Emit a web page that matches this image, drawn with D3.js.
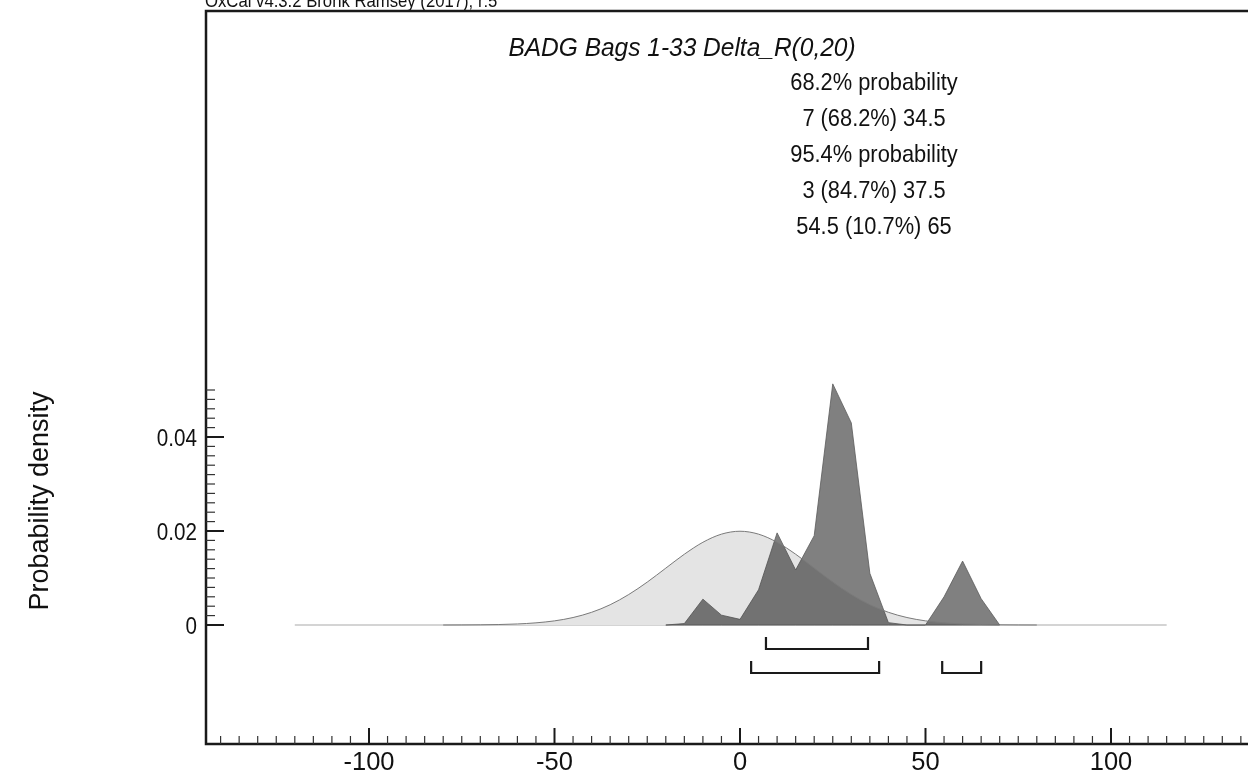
<!DOCTYPE html>
<html>
<head>
<meta charset="utf-8">
<script src="https://cdn.jsdelivr.net/npm/d3@7"></script>
<style>
  html, body { margin: 0; padding: 0; background: #fff; }
  svg { display: block; font-family: "Liberation Sans", Arial, sans-serif; }
</style>
</head>
<body>
<svg id="chart" width="1248" height="776"></svg>
<script>
// Prior: Delta_R ~ N(0,20), density sampled every 5 units
const priorX = [-120,-115,-110,-105,-100,-95,-90,-85,-80,-75,-70,-65,-60,-55,-50,-45,-40,-35,-30,-25,-20,-15,-10,-5,0,5,10,15,20,25,30,35,40,45,50,55,60,65,70,75,80,85,90,95,100,105,110,115];
const priorY = [0,0,0,0,0,0,0,0,0,0.00001,0.00004,0.0001,0.00022,0.00046,0.00088,0.00159,0.0027,0.00431,0.00648,0.00913,0.0121,0.01506,0.0176,0.01933,0.01995,0.01933,0.0176,0.01506,0.0121,0.00913,0.00648,0.00431,0.0027,0.00159,0.00088,0.00046,0.00022,0.0001,0.00004,0.00001,0,0,0,0,0,0,0,0];

// Posterior density of Delta_R
const postX = [-20,-15,-10,-5,0,5,10,15,20,25,30,35,40,45,50,55,60,65,70];
const postY = [0,0.0003,0.0055,0.0021,0.0012,0.0075,0.0196,0.0117,0.0190,0.0513,0.0430,0.0110,0.0005,0,0,0.0060,0.0136,0.0056,0];

// Highest posterior density ranges
const range68 = [[7, 34.5]];
const range95 = [[3, 37.5], [54.5, 65]];

const headerText = "OxCal v4.3.2 Bronk Ramsey (2017); r:5";
const titleText = "BADG Bags 1-33 Delta_R(0,20)";
const summaryLines = ["68.2% probability", "7 (68.2%) 34.5", "95.4% probability", "3 (84.7%) 37.5", "54.5 (10.7%) 65"];

const xMajorTicks = [-100, -50, 0, 50, 100];
const yMajorTicks = [0, 0.02, 0.04];
const yTickLabels = ["0", "0.02", "0.04"];
const yLabel = "Probability density";

const svg = d3.select("#chart");
const W = 1248;
const frame = { left: 206, top: 11, bottom: 744 };

const x = d3.scaleLinear().domain([0, 100]).range([740, 1111]);
const y = d3.scaleLinear().domain([0, 0.05]).range([625, 390]);

// Text drawn slightly condensed horizontally, as in OxCal output
function label(parent, tx, ty, str, size, sx, anchor, italic) {
  return parent.append("text")
    .attr("transform", `translate(${tx},${ty}) scale(${sx},1)`)
    .attr("text-anchor", anchor || "start")
    .attr("font-size", size)
    .attr("font-style", italic ? "italic" : "normal")
    .attr("fill", "#111")
    .text(str);
}

// Header (partly above the page edge)
label(svg, 205, 7, headerText, 19, 0.88, "start");

// Frame
svg.append("path")
  .attr("d", `M${W + 5},${frame.top} H${frame.left} V${frame.bottom} H${W + 5}`)
  .attr("fill", "none").attr("stroke", "#1a1a1a").attr("stroke-width", 2.5);

// Prior
const priorPts = priorX.map((v, i) => [v, priorY[i]]);
svg.append("line")
  .attr("x1", x(-120)).attr("x2", x(115)).attr("y1", y(0)).attr("y2", y(0))
  .attr("stroke", "#d4d4d4").attr("stroke-width", 2);
svg.append("path")
  .datum(priorPts.filter(d => d[0] >= -80 && d[0] <= 80))
  .attr("d", d3.area().x(d => x(d[0])).y0(y(0)).y1(d => y(d[1])).curve(d3.curveMonotoneX))
  .attr("fill", "#e4e4e4");

// Posterior (multiplied over the prior)
const postPts = postX.map((v, i) => [v, postY[i]]);
svg.append("path")
  .datum(postPts)
  .attr("d", d3.area().x(d => x(d[0])).y0(y(0)).y1(d => y(d[1])))
  .attr("fill", "#808080").attr("stroke", "#5a5a5a").attr("stroke-width", 0.8)
  .style("mix-blend-mode", "multiply");

// Prior outline on top
svg.append("path")
  .datum(priorPts.filter(d => d[0] >= -80 && d[0] <= 80))
  .attr("d", d3.line().x(d => x(d[0])).y(d => y(d[1])).curve(d3.curveMonotoneX))
  .attr("fill", "none").attr("stroke", "#7a7a7a").attr("stroke-width", 1);

// HPD range brackets
function brackets(ranges, top, bottom) {
  svg.append("g").selectAll("path").data(ranges).join("path")
    .attr("d", r => `M${x(r[0])},${top} V${bottom} H${x(r[1])} V${top}`)
    .attr("fill", "none").attr("stroke", "#1a1a1a").attr("stroke-width", 2.2);
}
brackets(range68, y(0) + 12, y(0) + 24);
brackets(range95, y(0) + 36, y(0) + 48);

// X axis ticks (inward, upward)
const xg = svg.append("g");
const xMinor = d3.range(-140, 140, 5).filter(v => xMajorTicks.indexOf(v) < 0);
xg.selectAll("line.minor").data(xMinor).join("line")
  .attr("x1", d => x(d)).attr("x2", d => x(d)).attr("y1", frame.bottom).attr("y2", frame.bottom - 8)
  .attr("stroke", "#333").attr("stroke-width", 1.2);
xg.selectAll("line.major").data(xMajorTicks).join("line")
  .attr("x1", d => x(d)).attr("x2", d => x(d)).attr("y1", frame.bottom).attr("y2", frame.bottom - 16)
  .attr("stroke", "#1a1a1a").attr("stroke-width", 2);
xMajorTicks.forEach(d => label(xg, x(d), 770, String(d), 25.5, 1, "middle"));

// Y axis ticks (inward, to the right)
const yg = svg.append("g");
const yMinor = d3.range(0, 26).map(i => i * 0.002).filter(v => !yMajorTicks.some(t => Math.abs(t - v) < 1e-9));
yg.selectAll("line.minor").data(yMinor).join("line")
  .attr("x1", frame.left).attr("x2", frame.left + 9).attr("y1", d => y(d)).attr("y2", d => y(d))
  .attr("stroke", "#333").attr("stroke-width", 1.2);
yg.selectAll("line.major").data(yMajorTicks).join("line")
  .attr("x1", frame.left).attr("x2", frame.left + 18).attr("y1", d => y(d)).attr("y2", d => y(d))
  .attr("stroke", "#1a1a1a").attr("stroke-width", 2);
yMajorTicks.forEach((d, i) => label(yg, 197, y(d) + 8.5, yTickLabels[i], 24, 0.86, "end"));

// Y axis label
svg.append("text")
  .attr("transform", "translate(48,501) rotate(-90)")
  .attr("text-anchor", "middle").attr("font-size", 27).attr("fill", "#111").text(yLabel);

// Title and summary
label(svg, 682, 56, titleText, 25, 0.98, "middle", true);
summaryLines.forEach((s, i) => label(svg, 874, 90 + i * 36, s, 24, 0.91, "middle"));
</script>
</body>
</html>
